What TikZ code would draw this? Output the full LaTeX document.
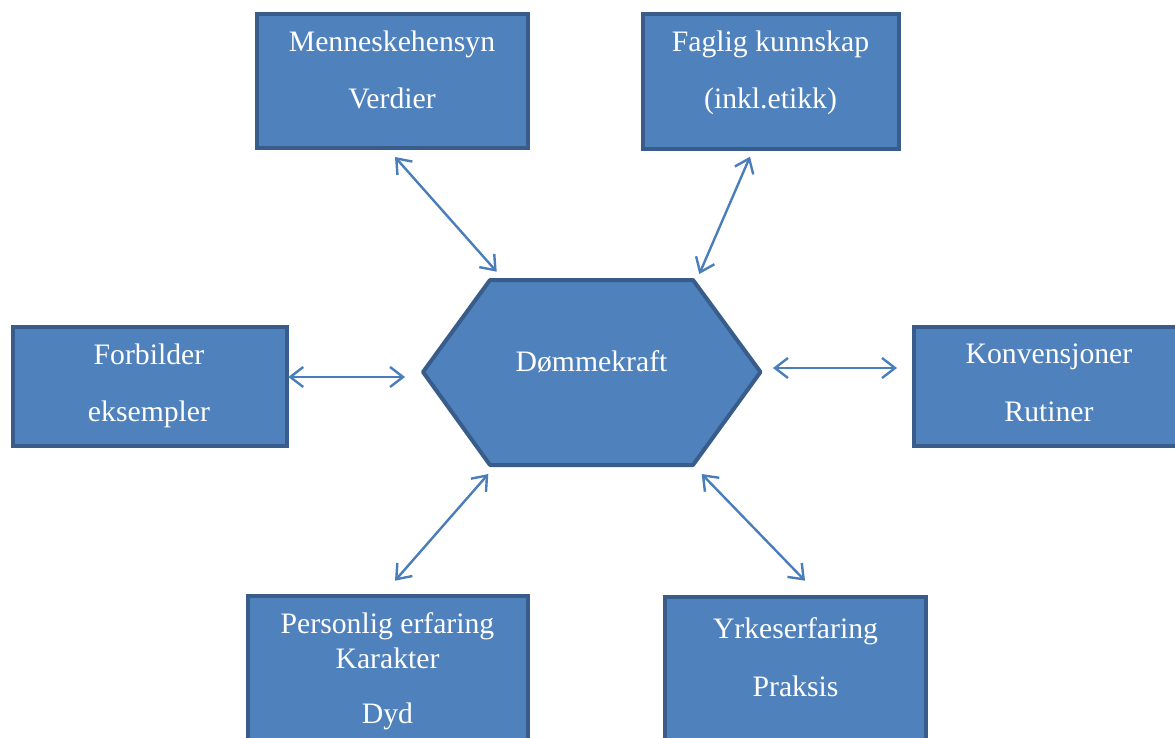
\documentclass[tikz,border=0pt]{standalone}
\usepackage{fontspec}
\setmainfont{Liberation Serif}
\usetikzlibrary{arrows.meta}
\definecolor{boxfill}{HTML}{4F81BD}
\definecolor{boxline}{HTML}{385D8A}
\definecolor{arrowc}{HTML}{4A7EBB}
\begin{document}
\begin{tikzpicture}[x=1pt,y=-1pt,
  box/.style={draw=boxline, fill=boxfill, line width=4pt, rectangle, inner sep=0pt},
  hexshape/.style={draw=boxline, fill=boxfill, line width=4pt, line join=round},
  txt/.style={text=white, font=\fontsize{29.7}{34}\selectfont, anchor=base, inner sep=0pt},
  link/.style={draw=arrowc, line width=2.4pt, {Straight Barb[length=13pt,width=20pt]}-{Straight Barb[length=13pt,width=20pt]}}]
\useasboundingbox (0,0) rectangle (1175,738);
\clip (0,0) rectangle (1175,738);

% boxes
\node[box, minimum width=271, minimum height=134.5] (mv) at (392.5,81.25) {};
\node[box, minimum width=255.5, minimum height=135] (fk) at (770.75,81.5) {};
\node[box, minimum width=274, minimum height=119.5] (fb) at (150,386.25) {};
\node[box, minimum width=270, minimum height=119.5] (kr) at (1049,386.25) {};
\node[box, minimum width=280, minimum height=164] (pe) at (388,678) {};
\node[box, minimum width=261.5, minimum height=163.5] (yp) at (795.25,678.25) {};

% hexagon
\coordinate (hex) at (591.5,372);
\draw[hexshape] (423,372) -- (490,280) -- (693,280) -- (760.5,372) -- (693,465) -- (490,465) -- cycle;

% texts
\node[txt] (mv1) at (392,52) {Menneskehensyn};
\node[txt] (mv2) at (392,109) {Verdier};
\node[txt] (fk1) at (770.5,51.7) {Faglig kunnskap};
\node[txt] (fk2) at (770.5,108.3) {(inkl.etikk)};
\node[txt] (fb1) at (149,364) {Forbilder};
\node[txt] (fb2) at (149,421) {eksempler};
\node[txt] (kr1) at (1049,363) {Konvensjoner};
\node[txt] (kr2) at (1049,421) {Rutiner};
\node[txt] (pe1) at (387.5,633) {Personlig erfaring};
\node[txt] (pe2) at (387.5,668) {Karakter};
\node[txt] (pe3) at (387.5,723) {Dyd};
\node[txt] (yp1) at (795.5,638) {Yrkeserfaring};
\node[txt] (yp2) at (795.5,696) {Praksis};
\node[txt] (dk) at (591.5,371) {Dømmekraft};

% connector ends
\coordinate (a1s) at (395,157);
\coordinate (a1e) at (496.7,271.7);
\coordinate (a2s) at (750,156.7);
\coordinate (a2e) at (699.3,274);
\coordinate (a3s) at (288.3,377);
\coordinate (a3e) at (405,377);
\coordinate (a4s) at (773,368);
\coordinate (a4e) at (897,368);
\coordinate (a5s) at (488.3,474);
\coordinate (a5e) at (395,580.7);
\coordinate (a6s) at (701.7,474);
\coordinate (a6e) at (805,580.7);

\draw[link] (a1s) -- (a1e);
\draw[link] (a2s) -- (a2e);
\draw[link] (a3s) -- (a3e);
\draw[link] (a4s) -- (a4e);
\draw[link] (a5s) -- (a5e);
\draw[link] (a6s) -- (a6e);
\end{tikzpicture}
\end{document}
